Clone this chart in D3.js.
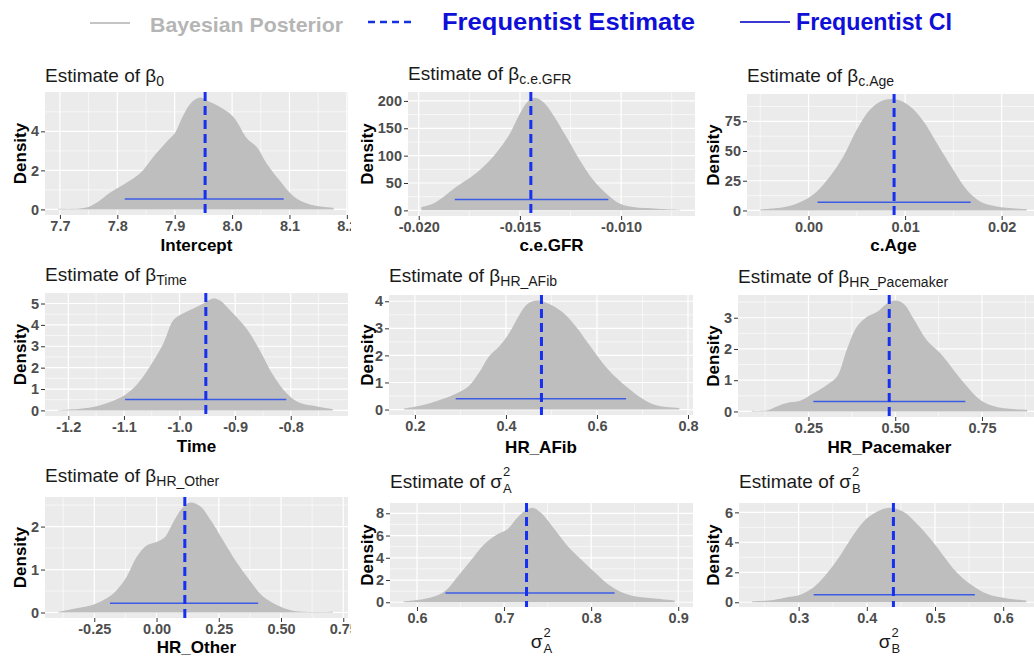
<!DOCTYPE html>
<html>
<head>
<meta charset="utf-8">
<script src="https://cdn.jsdelivr.net/npm/d3@7"></script>
<style>
body { margin: 0; background: #fff; }
svg text { font-family: "Liberation Sans", Arial, sans-serif; }
</style>
</head>
<body>
<script>
// posterior densities, one pair of arrays per panel
var interceptX = [7.697, 7.744, 7.764, 7.787, 7.816, 7.84, 7.863, 7.886, 7.90, 7.915, 7.93, 7.944, 7.955, 7.979, 8.002, 8.026, 8.043, 8.06, 8.084, 8.107, 8.136, 8.177];
var interceptD = [0.03, 0.08, 0.34, 0.85, 1.36, 1.86, 2.7, 3.47, 3.9, 4.83, 5.5, 5.73, 5.6, 5.25, 4.75, 3.64, 3.2, 2.37, 1.44, 0.68, 0.25, 0.08];

var gfrX = [-0.01987, -0.01937, -0.0188, -0.01814, -0.0173, -0.01665, -0.016, -0.0155, -0.0150, -0.01459, -0.01426, -0.01385, -0.01335, -0.0127, -0.01203, -0.01137, -0.01071, -0.01005, -0.0094, -0.00823, -0.00708];
var gfrD = [6, 11, 24, 43, 64, 85, 113, 140, 177, 200, 206, 198, 174, 134, 91, 55, 30, 12, 6, 3, 1];

var ageX = [-0.005, -0.00328, -0.0019, -0.0005, 0.00086, 0.00224, 0.00362, 0.005, 0.00638, 0.00776, 0.00914, 0.0105, 0.0119, 0.01328, 0.015, 0.01638, 0.01776, 0.01948, 0.0226];
var ageD = [0.8, 2, 4, 8.4, 16, 28.7, 45.5, 68, 85, 92.7, 93.3, 87.6, 75, 56.7, 34, 17.4, 7.6, 3.4, 1.1];

var timeX = [-1.218, -1.179, -1.149, -1.125, -1.101, -1.077, -1.053, -1.029, -1.011, -0.993, -0.975, -0.957, -0.94, -0.928, -0.904, -0.88, -0.856, -0.832, -0.808, -0.784, -0.754, -0.724];
var timeD = [0.02, 0.08, 0.2, 0.39, 0.67, 1.2, 2.06, 3.14, 4.23, 4.54, 4.77, 5.0, 5.23, 5.15, 4.54, 3.84, 2.83, 1.67, 0.82, 0.36, 0.2, 0.06];

var afibX = [0.176, 0.216, 0.253, 0.29, 0.319, 0.341, 0.363, 0.385, 0.407, 0.429, 0.447, 0.469, 0.495, 0.524, 0.554, 0.583, 0.612, 0.642, 0.671, 0.70, 0.73, 0.781];
var afibD = [0.04, 0.16, 0.34, 0.58, 0.88, 1.37, 1.97, 2.33, 2.82, 3.48, 3.9, 4.03, 3.9, 3.6, 3.06, 2.39, 1.73, 1.18, 0.76, 0.4, 0.16, 0.06];

var paceX = [0.0865, 0.13, 0.159, 0.1875, 0.226, 0.264, 0.303, 0.332, 0.36, 0.389, 0.418, 0.447, 0.476, 0.50, 0.524, 0.553, 0.591, 0.63, 0.668, 0.707, 0.745, 0.793, 0.88];
var paceD = [0.02, 0.03, 0.16, 0.27, 0.34, 0.58, 0.85, 1.11, 1.96, 2.7, 3.02, 3.18, 3.45, 3.55, 3.45, 2.97, 2.28, 1.86, 1.33, 0.8, 0.37, 0.14, 0.05];

var otherX = [-0.394, -0.321, -0.254, -0.2, -0.16, -0.12, -0.08, -0.04, 0.0, 0.033, 0.067, 0.1, 0.134, 0.174, 0.214, 0.267, 0.32, 0.374, 0.428, 0.481, 0.535, 0.588, 0.709];
var otherD = [0.015, 0.1, 0.18, 0.33, 0.52, 0.83, 1.29, 1.56, 1.64, 1.75, 2.1, 2.41, 2.56, 2.48, 2.18, 1.68, 1.18, 0.75, 0.37, 0.18, 0.06, 0.015, 0.015];

var sigAX = [0.5846, 0.608, 0.623, 0.635, 0.646, 0.6615, 0.677, 0.692, 0.704, 0.715, 0.727, 0.733, 0.742, 0.758, 0.773, 0.788, 0.804, 0.819, 0.835, 0.85, 0.873, 0.896];
var sigAD = [0.09, 0.3, 0.6, 1.2, 2.24, 3.73, 5.2, 6.1, 6.57, 7.6, 8.36, 8.5, 8.06, 6.57, 5.07, 3.88, 2.69, 1.64, 0.9, 0.54, 0.33, 0.15];

var sigBX = [0.2317, 0.263, 0.283, 0.3024, 0.322, 0.341, 0.361, 0.38, 0.40, 0.4195, 0.434, 0.4537, 0.473, 0.493, 0.512, 0.5317, 0.551, 0.5707, 0.59, 0.6146, 0.634];
var sigBD = [0.07, 0.16, 0.34, 0.51, 1.0, 1.9, 3.13, 4.47, 5.6, 6.15, 6.31, 6.04, 5.26, 4.25, 3.13, 2.0, 1.23, 0.67, 0.38, 0.2, 0.11];

// frequentist estimate and interval
var estimates = [7.953, -0.01446, 0.00886, -0.9527, 0.478, 0.4827, 0.1136, 0.7258, 0.439];
var ciLow = [7.813, -0.01822, 0.00093, -1.098, 0.2895, 0.264, -0.187, 0.6327, 0.322];
var ciHigh = [8.09, -0.01063, 0.01679, -0.808, 0.664, 0.702, 0.408, 0.827, 0.5585];
var ciHeight = [0.53, 20, 7, 0.51, 0.4, 0.32, 0.215, 0.84, 0.51];

// axes
var xDomains = [[7.674, 8.202], [-0.02053, -0.00635], [-0.00637, 0.02397], [-1.242, -0.697], [0.143, 0.811], [0.047, 0.92], [-0.448, 0.769], [0.569, 0.917], [0.2125, 0.654]];
var xTicks = [[7.7, 7.8, 7.9, 8.0, 8.1, 8.2], [-0.020, -0.015, -0.010], [0.00, 0.01, 0.02], [-1.2, -1.1, -1.0, -0.9, -0.8], [0.2, 0.4, 0.6, 0.8], [0.25, 0.50, 0.75], [-0.25, 0.00, 0.25, 0.50, 0.75], [0.6, 0.7, 0.8, 0.9], [0.3, 0.4, 0.5, 0.6]];
var xTickFormats = [".1f", ".3f", ".2f", ".1f", ".1f", ".2f", ".2f", ".1f", ".1f"];
var yTicks = [[0, 2, 4], [0, 50, 100, 150, 200], [0, 25, 50, 75], [0, 1, 2, 3, 4, 5], [0, 1, 2, 3, 4], [0, 1, 2, 3], [0, 1, 2], [0, 2, 4, 6, 8], [0, 2, 4, 6]];
var xTitles = ["Intercept", "c.e.GFR", "c.Age", "Time", "HR_AFib", "HR_Pacemaker", "HR_Other", "σA", "σB"];
var titleSubs = ["0", "c.e.GFR", "c.Age", "Time", "HR_AFib", "HR_Pacemaker", "HR_Other", "A", "B"];
var legendLabels = ["Bayesian Posterior", "Frequentist Estimate", "Frequentist CI"];

var densX = [interceptX, gfrX, ageX, timeX, afibX, paceX, otherX, sigAX, sigBX];
var densD = [interceptD, gfrD, ageD, timeD, afibD, paceD, otherD, sigAD, sigBD];

// pixel layout: plot box [left, right, top, bottom], title baseline, x title baseline
var boxes = [
  [45, 348, 92, 215, 82, 251], [408, 695, 92, 216, 80, 251], [747, 1040, 94, 216, 82, 251],
  [45, 348, 293, 416, 281, 452], [389, 693, 295, 415, 282, 453], [738, 1041, 295, 417, 283, 453],
  [45, 348, 497, 618, 482, 653], [390, 693, 503, 607, 488, 648], [739, 1040, 503, 607, 488, 648]
];
var colCells = [[0, 351], [351, 700], [700, 1034]];
var rowCells = [[45, 258], [258, 460], [460, 662]];
var densityLabelX = [20, 367, 713];

var loc = d3.formatLocale({decimal: ".", thousands: ",", grouping: [3], currency: ["", ""], minus: "-"});

var svg = d3.select("body").append("svg")
            .attr("width", 1034)
            .attr("height", 662);
var defs = svg.append("defs");

// legend
var lg = svg.append("g");
lg.append("line").attr("x1", 90).attr("x2", 130).attr("y1", 23).attr("y2", 23)
  .attr("stroke", "#c4c4c4").attr("stroke-width", 2);
lg.append("text").attr("x", 150).attr("y", 32).text(legendLabels[0])
  .attr("font-size", 21).attr("font-weight", "bold").attr("fill", "#b5b5b5")
  .attr("textLength", 193).attr("lengthAdjust", "spacingAndGlyphs");
lg.append("line").attr("x1", 368).attr("x2", 413).attr("y1", 22).attr("y2", 22)
  .attr("stroke", "#1530e0").attr("stroke-width", 2.5).attr("stroke-dasharray", "7,5");
lg.append("text").attr("x", 442).attr("y", 30).text(legendLabels[1])
  .attr("font-size", 24).attr("font-weight", "bold").attr("fill", "#0f0fd8")
  .attr("textLength", 253).attr("lengthAdjust", "spacingAndGlyphs");
lg.append("line").attr("x1", 740).attr("x2", 790).attr("y1", 22).attr("y2", 22)
  .attr("stroke", "#3a3ad0").attr("stroke-width", 2);
lg.append("text").attr("x", 796).attr("y", 30).text(legendLabels[2])
  .attr("font-size", 24).attr("font-weight", "bold").attr("fill", "#0f0fd8")
  .attr("textLength", 156).attr("lengthAdjust", "spacingAndGlyphs");

function minorsOf(ticks, dom) {
  var step = ticks[1] - ticks[0];
  var out = [];
  for (var v = ticks[0] - step / 2 - 10 * step; v <= dom[1]; v += step) {
    if (v >= dom[0]) out.push(v);
  }
  return out;
}

// sigma with stacked super/subscript
function sigmaText(g, x, y, sub, size, anchorMid, supDy, subDy) {
  var grp = g.append("g");
  var s = grp.append("text").attr("x", 0).attr("y", y).attr("font-size", size)
             .attr("fill", "#1a1a1a").text("σ");
  var w = s.node().getComputedTextLength();
  grp.append("text").attr("x", w + 1).attr("y", y + supDy).attr("font-size", 13)
     .attr("fill", "#1a1a1a").text("2");
  var sb = grp.append("text").attr("x", w + 1).attr("y", y + subDy).attr("font-size", 13)
              .attr("fill", "#1a1a1a").text(sub);
  var total = w + 1 + sb.node().getComputedTextLength();
  grp.attr("transform", "translate(" + (anchorMid ? x - total / 2 : x) + ",0)");
}

function drawPanel(i) {
  var b = boxes[i];
  var col = i % 3, row = Math.floor(i / 3);
  defs.append("clipPath").attr("id", "cell" + i)
      .append("rect")
      .attr("x", colCells[col][0]).attr("y", rowCells[row][0])
      .attr("width", colCells[col][1] - colCells[col][0])
      .attr("height", rowCells[row][1] - rowCells[row][0]);
  var g = svg.append("g").attr("clip-path", "url(#cell" + i + ")");

  var x = d3.scaleLinear().domain(xDomains[i]).range([b[0], b[1]]);
  var ymax = d3.max(densD[i]);
  var yDom = [-0.05 * ymax, 1.05 * ymax];
  var y = d3.scaleLinear().domain(yDom).range([b[3], b[2]]);

  g.append("rect").attr("x", b[0]).attr("y", b[2])
   .attr("width", b[1] - b[0]).attr("height", b[3] - b[2])
   .attr("fill", "#ebebeb");

  // grid
  var grid = g.append("g").attr("stroke", "#fff");
  minorsOf(xTicks[i], xDomains[i]).forEach(function(v) {
    grid.append("line").attr("x1", x(v)).attr("x2", x(v)).attr("y1", b[2]).attr("y2", b[3]).attr("stroke-width", 0.6);
  });
  minorsOf(yTicks[i], yDom).forEach(function(v) {
    grid.append("line").attr("y1", y(v)).attr("y2", y(v)).attr("x1", b[0]).attr("x2", b[1]).attr("stroke-width", 0.6);
  });
  xTicks[i].forEach(function(v) {
    grid.append("line").attr("x1", x(v)).attr("x2", x(v)).attr("y1", b[2]).attr("y2", b[3]).attr("stroke-width", 1.2);
  });
  yTicks[i].forEach(function(v) {
    grid.append("line").attr("y1", y(v)).attr("y2", y(v)).attr("x1", b[0]).attr("x2", b[1]).attr("stroke-width", 1.2);
  });

  // posterior density
  var pts = densX[i].map(function(v, k) { return [v, densD[i][k]]; });
  var area = d3.area()
               .x(function(d) { return x(d[0]); })
               .y0(y(0))
               .y1(function(d) { return y(d[1]); })
               .curve(d3.curveCatmullRom);
  g.append("path").datum(pts).attr("d", area).attr("fill", "#bebebe");

  // CI and estimate
  g.append("line").attr("x1", x(ciLow[i])).attr("x2", x(ciHigh[i]))
   .attr("y1", y(ciHeight[i])).attr("y2", y(ciHeight[i]))
   .attr("stroke", "#3c5ce6").attr("stroke-width", 1.5);
  g.append("line").attr("x1", x(estimates[i])).attr("x2", x(estimates[i]))
   .attr("y1", b[2]).attr("y2", b[3])
   .attr("stroke", "#1530ee").attr("stroke-width", 3).attr("stroke-dasharray", "9,5");

  // axes
  var ax = g.append("g").attr("transform", "translate(0," + b[3] + ")")
            .call(d3.axisBottom(x).tickValues(xTicks[i]).tickFormat(loc.format(xTickFormats[i]))
                    .tickSize(4).tickPadding(2));
  var ay = g.append("g").attr("transform", "translate(" + b[0] + ",0)")
            .call(d3.axisLeft(y).tickValues(yTicks[i]).tickFormat(loc.format("d"))
                    .tickSize(4).tickPadding(2));
  [ax, ay].forEach(function(a) {
    a.select(".domain").remove();
    a.selectAll(".tick line").attr("stroke", "#333");
    a.selectAll("text").attr("font-size", 14.5).attr("font-weight", "bold")
     .attr("fill", "#4d4d4d").attr("font-family", "Liberation Sans, Arial, sans-serif");
  });

  // y title
  var cy = (b[2] + b[3]) / 2;
  g.append("text").attr("transform", "translate(" + (densityLabelX[col] + 6) + "," + cy + ") rotate(-90)")
   .attr("text-anchor", "middle").attr("font-size", 17).attr("font-weight", "bold")
   .attr("fill", "#000").text("Density");

  // x title
  var cx = (b[0] + b[1]) / 2;
  if (i < 7) {
    g.append("text").attr("x", cx).attr("y", b[5])
     .attr("text-anchor", "middle").attr("font-size", 17).attr("font-weight", "bold")
     .attr("fill", "#000").text(xTitles[i]);
  } else {
    sigmaText(g, cx, b[5], titleSubs[i], 19, true, -11, 5);
  }

  // panel title
  var t = g.append("text").attr("x", b[0]).attr("y", b[4])
           .attr("font-size", 19).attr("fill", "#1a1a1a");
  t.append("tspan").text("Estimate of\u00a0");
  if (i < 7) {
    t.append("tspan").text("β");
    t.append("tspan").attr("font-size", 14).attr("dy", 4).text(titleSubs[i]);
  } else {
    var w = t.node().getComputedTextLength();
    sigmaText(g, b[0] + w, b[4], titleSubs[i], 19, false, -12, 5);
  }
}

for (var i = 0; i < 9; i++) drawPanel(i);
</script>
</body>
</html>
